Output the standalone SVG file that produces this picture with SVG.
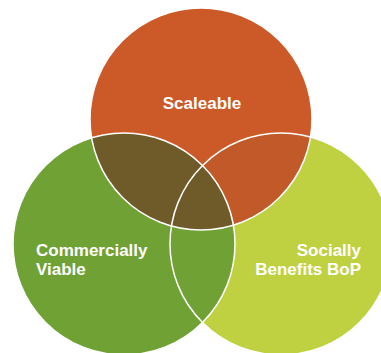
<svg xmlns="http://www.w3.org/2000/svg" width="381" height="353" viewBox="0 0 381 353">
<style>
.lbl{font-family:"Liberation Sans",Arial,sans-serif;font-weight:bold;font-size:17px;fill:#ffffff}
.ring{fill:none;stroke:#ffffff;stroke-width:1.5}
</style>
<defs>
<clipPath id="cTop"><circle cx="201" cy="119" r="111"/></clipPath>
</defs>
<rect width="381" height="353" fill="#ffffff"/>
<g id="node-socially">
<circle cx="281" cy="244" r="111" fill="#BFD141"/>
</g>
<g id="node-commercially">
<circle cx="124" cy="244" r="111" fill="#6FA134"/>
</g>
<g id="node-scaleable">
<circle cx="201" cy="119" r="111" fill="#CC5A28"/>
<circle cx="281" cy="244" r="111" fill="#C15A28" clip-path="url(#cTop)"/>
<circle cx="124" cy="244" r="111" fill="#6F5B29" clip-path="url(#cTop)"/>
</g>
<g id="outlines">
<circle class="ring" cx="201" cy="119" r="111"/>
<circle class="ring" cx="124" cy="244" r="111"/>
<circle class="ring" cx="281" cy="244" r="111"/>
</g>
<g id="labels">
<text class="lbl" x="202" y="109" text-anchor="middle">Scaleable</text>
<text class="lbl" x="36" y="256">Commercially</text>
<text class="lbl" x="36" y="275">Viable</text>
<text class="lbl" x="361" y="256" text-anchor="end">Socially</text>
<text class="lbl" x="361" y="275" text-anchor="end">Benefits BoP</text>
</g>
</svg>
